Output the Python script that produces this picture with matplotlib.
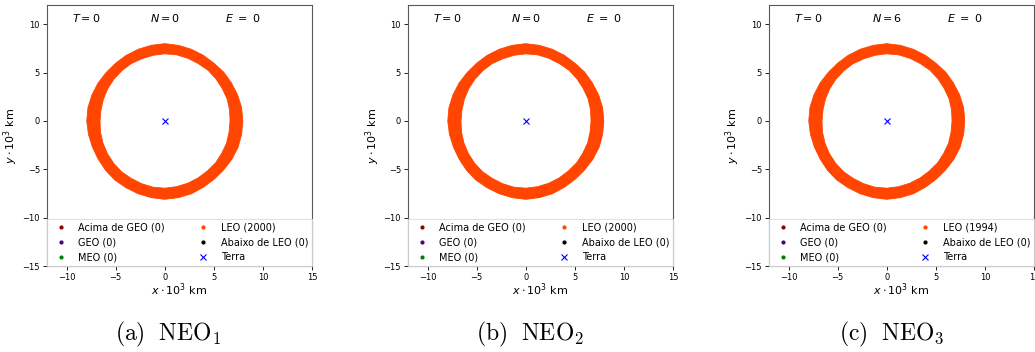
import numpy as np
import matplotlib
matplotlib.use("Agg")
import matplotlib.pyplot as plt
from matplotlib.path import Path
from matplotlib.patches import PathPatch
from matplotlib.lines import Line2D

# ---------------- data ----------------
panel_tags = ["a", "b", "c"]
neo_index = [1, 2, 3]
T_vals = [0, 0, 0]
N_vals = [0, 0, 6]
E_vals = [0, 0, 0]

categories = ["Acima de GEO", "GEO", "MEO", "LEO", "Abaixo de LEO"]
cat_colors = ["darkred", "indigo", "green", "orangered", "black"]
counts_acima = [0, 0, 0]
counts_geo = [0, 0, 0]
counts_meo = [0, 0, 0]
counts_leo = [2000, 2000, 1994]
counts_abaixo = [0, 0, 0]

# LEO debris ring extent (10^3 km), by angle (every 10 deg)
ring_angles_deg = [0, 10, 20, 30, 40, 50, 60, 70, 80, 90, 100, 110,
                   120, 130, 140, 150, 160, 170, 180, 190, 200, 210, 220, 230,
                   240, 250, 260, 270, 280, 290, 300, 310, 320, 330, 340, 350]
ring_outer = [7.95, 7.95, 7.9, 7.85, 7.85, 7.8, 7.85, 7.9, 7.95, 8.0, 7.95, 7.9,
              7.85, 7.8, 7.8, 7.85, 7.9, 7.95, 7.95, 7.9, 7.85, 7.85, 7.9, 7.95,
              7.95, 8.0, 8.05, 8.1, 8.05, 8.0, 7.9, 7.85, 7.85, 7.9, 7.95, 7.95]
ring_inner = [6.65, 6.7, 6.75, 6.75, 6.8, 6.85, 6.85, 6.9, 6.95, 6.95, 6.9, 6.85,
              6.85, 6.8, 6.75, 6.7, 6.65, 6.6, 6.6, 6.65, 6.7, 6.75, 6.8, 6.85,
              6.85, 6.9, 6.95, 6.95, 6.9, 6.85, 6.8, 6.75, 6.75, 6.7, 6.7, 6.65]

earth_x = [0.0]
earth_y = [0.0]

# ---------------- figure ----------------
fig = plt.figure(figsize=(10.35, 3.52), dpi=100)
W, H = 1035, 352
ax_lefts = [47, 408, 769]
ax_w, ax_top, ax_bot = 265, 5, 266
caption_x = [168, 530, 892]

th = np.deg2rad(ring_angles_deg)
r_out = np.array(ring_outer)
r_in = np.array(ring_inner)
ox, oy = r_out * np.cos(th), r_out * np.sin(th)
ix, iy = (r_in * np.cos(th))[::-1], (r_in * np.sin(th))[::-1]

for k in range(3):
    ax = fig.add_axes([ax_lefts[k] / W, (H - ax_bot) / H, ax_w / W, (ax_bot - ax_top) / H])
    ax.set_xlim(-12, 15)
    ax.set_ylim(-15, 12)
    ax.set_xticks([-10, -5, 0, 5, 10, 15])
    ax.set_yticks([-15, -10, -5, 0, 5, 10])
    ax.tick_params(labelsize=6, length=3, width=0.6, pad=2)
    for s in ax.spines.values():
        s.set_linewidth(0.8)
        s.set_color("0.35")

    # LEO ring
    verts = (list(zip(ox, oy)) + [(ox[0], oy[0])] +
             list(zip(ix, iy)) + [(ix[0], iy[0])])
    codes = ([Path.MOVETO] + [Path.LINETO] * (len(ox) - 1) + [Path.CLOSEPOLY] +
             [Path.MOVETO] + [Path.LINETO] * (len(ix) - 1) + [Path.CLOSEPOLY])
    patch = PathPatch(Path(verts, codes), facecolor="orangered", edgecolor="orangered",
                      linewidth=0.6, zorder=2)
    ax.add_patch(patch)

    ax.plot(earth_x, earth_y, "x", color="blue", ms=4, mew=0.8, zorder=3)

    counts = [counts_acima[k], counts_geo[k], counts_meo[k], counts_leo[k], counts_abaixo[k]]
    handles = []
    for name, col, c in zip(categories, cat_colors, counts):
        handles.append(Line2D([], [], ls="none", marker=".", ms=4, color=col,
                              label=f"{name} ({c})"))
    handles.append(Line2D([], [], ls="none", marker="x", ms=4, mew=0.8, color="blue",
                          label="Terra"))
    leg = ax.legend(handles=handles, loc="lower left", bbox_to_anchor=(0, 0, 1, 1),
                    mode="expand", ncol=2, fontsize=7, borderaxespad=0,
                    framealpha=0.8, edgecolor="0.85", fancybox=False)
    leg.get_frame().set_linewidth(0.8)

    ax.text(-8, 10.7, rf"$T = {T_vals[k]}$", ha="center", va="center", fontsize=8)
    ax.text(0, 10.7, rf"$N = {N_vals[k]}$", ha="center", va="center", fontsize=8)
    ax.text(8, 10.7, rf"$E\ =\ {E_vals[k]}$", ha="center", va="center", fontsize=8)

    ax.set_xlabel(r"$x \cdot 10^3$ km", fontsize=8)
    ax.set_ylabel(r"$y \cdot 10^3$ km", fontsize=8)
    ax.xaxis.set_label_coords(0.5, -0.06)
    ax.yaxis.set_label_coords(-0.10, 0.5)

    fig.text(caption_x[k] / W, 1 - 334 / H,
             rf"$\mathrm{{({panel_tags[k]})\ \ NEO_{neo_index[k]}}}$",
             ha="center", va="center", fontsize=17, math_fontfamily="cm")

fig.savefig("out.png", dpi=100)
